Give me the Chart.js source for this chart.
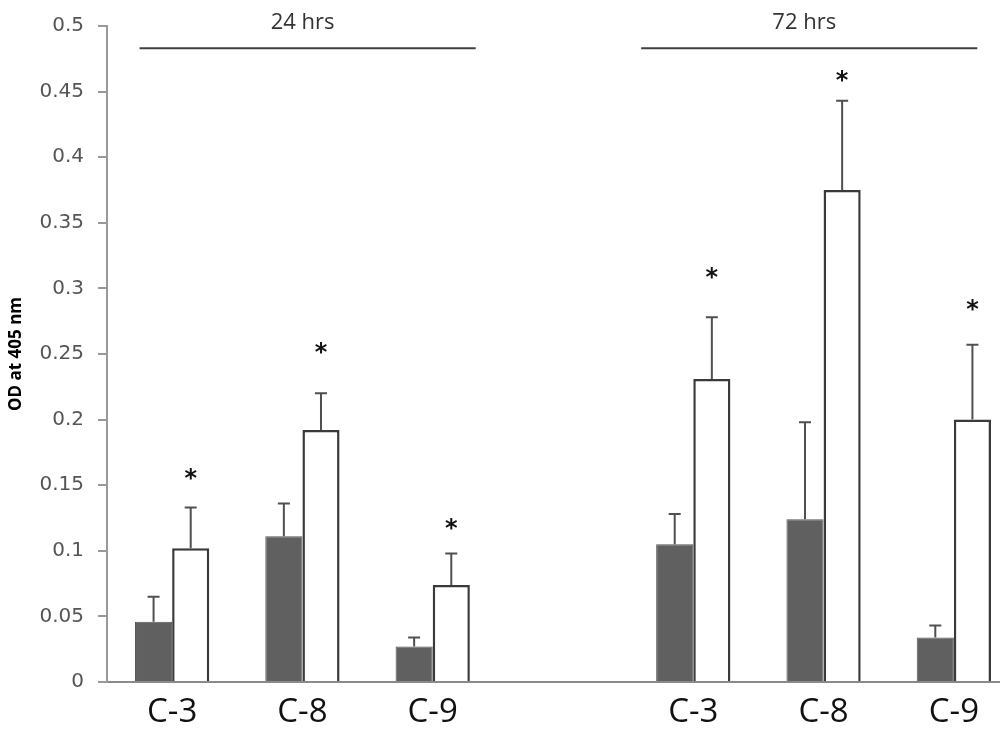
<!DOCTYPE html>
<html>
<head>
<meta charset="utf-8">
<script src="https://cdn.jsdelivr.net/npm/chart.js@4.4.1/dist/chart.umd.min.js"></script>
<style>
  html, body { margin: 0; padding: 0; background: #fff; overflow: hidden; }
  #grafico { display: block; }
</style>
</head>
<body>
<canvas id="grafico" width="1030" height="742" style="width:1030px;height:742px"></canvas>
<script>
// datos (OD a 405 nm)
const categorias = ['C-3', 'C-8', 'C-9', '', 'C-3', 'C-8', 'C-9'];
const control = [0.046, 0.111, 0.027, null, 0.105, 0.124, 0.034];
const controlErr = [0.019, 0.025, 0.007, null, 0.023, 0.074, 0.009];
const tratado = [0.102, 0.192, 0.074, null, 0.231, 0.375, 0.200];
const tratadoErr = [0.031, 0.028, 0.024, null, 0.047, 0.068, 0.057];
const asterisco = [0.158, 0.254, 0.120, null, 0.311, 0.461, 0.287];
const yTicks = [0, 0.05, 0.1, 0.15, 0.2, 0.25, 0.3, 0.35, 0.4, 0.45, 0.5];
const grupos = ['24 hrs', '72 hrs'];
const grupoDesde = [-0.25, 3.6];
const grupoHasta = [2.33, 6.18];
const grupoNivel = 0.483;

// barras de error (solo hacia arriba), asteriscos y rotulos de grupo
const extras = {
    id: 'extras',
    afterDatasetsDraw(chart) {
        const ctx = chart.ctx;
        const y = chart.scales.y;
        const x = chart.scales.x;
        const errores = [controlErr, tratadoErr];
        ctx.save();
        ctx.strokeStyle = '#505050';
        ctx.lineWidth = 2;
        [control, tratado].forEach((serie, d) => {
            const meta = chart.getDatasetMeta(d);
            serie.forEach((v, i) => {
                if (v === null) return;
                const px = meta.data[i].x;
                const top = y.getPixelForValue(v + errores[d][i]);
                ctx.beginPath();
                ctx.moveTo(px, y.getPixelForValue(v));
                ctx.lineTo(px, top);
                ctx.moveTo(px - 6, top);
                ctx.lineTo(px + 6, top);
                ctx.stroke();
            });
        });
        const meta1 = chart.getDatasetMeta(1);
        ctx.fillStyle = '#111';
        ctx.font = 'bold 24px "DejaVu Sans"';
        ctx.textAlign = 'center';
        ctx.textBaseline = 'middle';
        asterisco.forEach((v, i) => {
            if (v === null) return;
            ctx.fillText('*', meta1.data[i].x, y.getPixelForValue(v) + 5);
        });
        ctx.strokeStyle = '#404040';
        ctx.lineWidth = 2;
        ctx.fillStyle = '#333';
        ctx.font = '22px "Open Sans"';
        ctx.textBaseline = 'alphabetic';
        grupos.forEach((g, k) => {
            const x0 = x.getPixelForValue(grupoDesde[k]);
            const x1 = x.getPixelForValue(grupoHasta[k]);
            const py = y.getPixelForValue(grupoNivel);
            ctx.beginPath();
            ctx.moveTo(x0, py);
            ctx.lineTo(x1, py);
            ctx.stroke();
            ctx.fillText(g, (x0 + x1) / 2 - 5, 29);
        });
        ctx.restore();
    }
};

new Chart(document.getElementById('grafico').getContext('2d'), {
    type: 'bar',
    data: {
        labels: categorias,
        datasets: [{
            label: 'control',
            data: control,
            backgroundColor: '#606060',
            borderColor: '#555',
            borderWidth: 1,
            categoryPercentage: 0.57,
            barPercentage: 1
        }, {
            label: 'tratado',
            data: tratado,
            backgroundColor: '#ffffff',
            borderColor: '#3a3a3a',
            borderWidth: 2.5,
            categoryPercentage: 0.57,
            barPercentage: 1
        }]
    },
    options: {
        responsive: false,
        animation: false,
        layout: { padding: { top: 22, right: 11, bottom: 0, left: 0 } },
        plugins: { legend: { display: false }, tooltip: { enabled: false } },
        scales: {
            x: {
                grid: { display: false },
                border: { display: true, color: '#8a8a8a', width: 2 },
                ticks: {
                    color: '#111',
                    font: { family: 'Open Sans', size: 33 },
                    padding: 3,
                    maxRotation: 0,
                    autoSkip: false
                },
                afterFit(scale) { scale.height = 60; }
            },
            y: {
                min: 0,
                max: 0.5,
                afterBuildTicks(scale) { scale.ticks = yTicks.map(v => ({ value: v })); },
                ticks: {
                    color: '#555',
                    font: { family: 'DejaVu Sans', size: 20 },
                    padding: 14,
                    callback: v => String(+v.toFixed(2))
                },
                grid: { display: true, drawOnChartArea: false, tickLength: 9, color: '#999', lineWidth: 2 },
                border: { display: true, color: '#999', width: 2 },
                title: {
                    display: true,
                    text: 'OD at 405 nm',
                    color: '#000',
                    font: { family: 'Open Sans', size: 17, weight: 'bold' },
                    padding: { top: 6, bottom: 0 }
                },
                afterFit(scale) { scale.width = 107; }
            }
        }
    },
    plugins: [extras]
});
</script>
</body>
</html>
